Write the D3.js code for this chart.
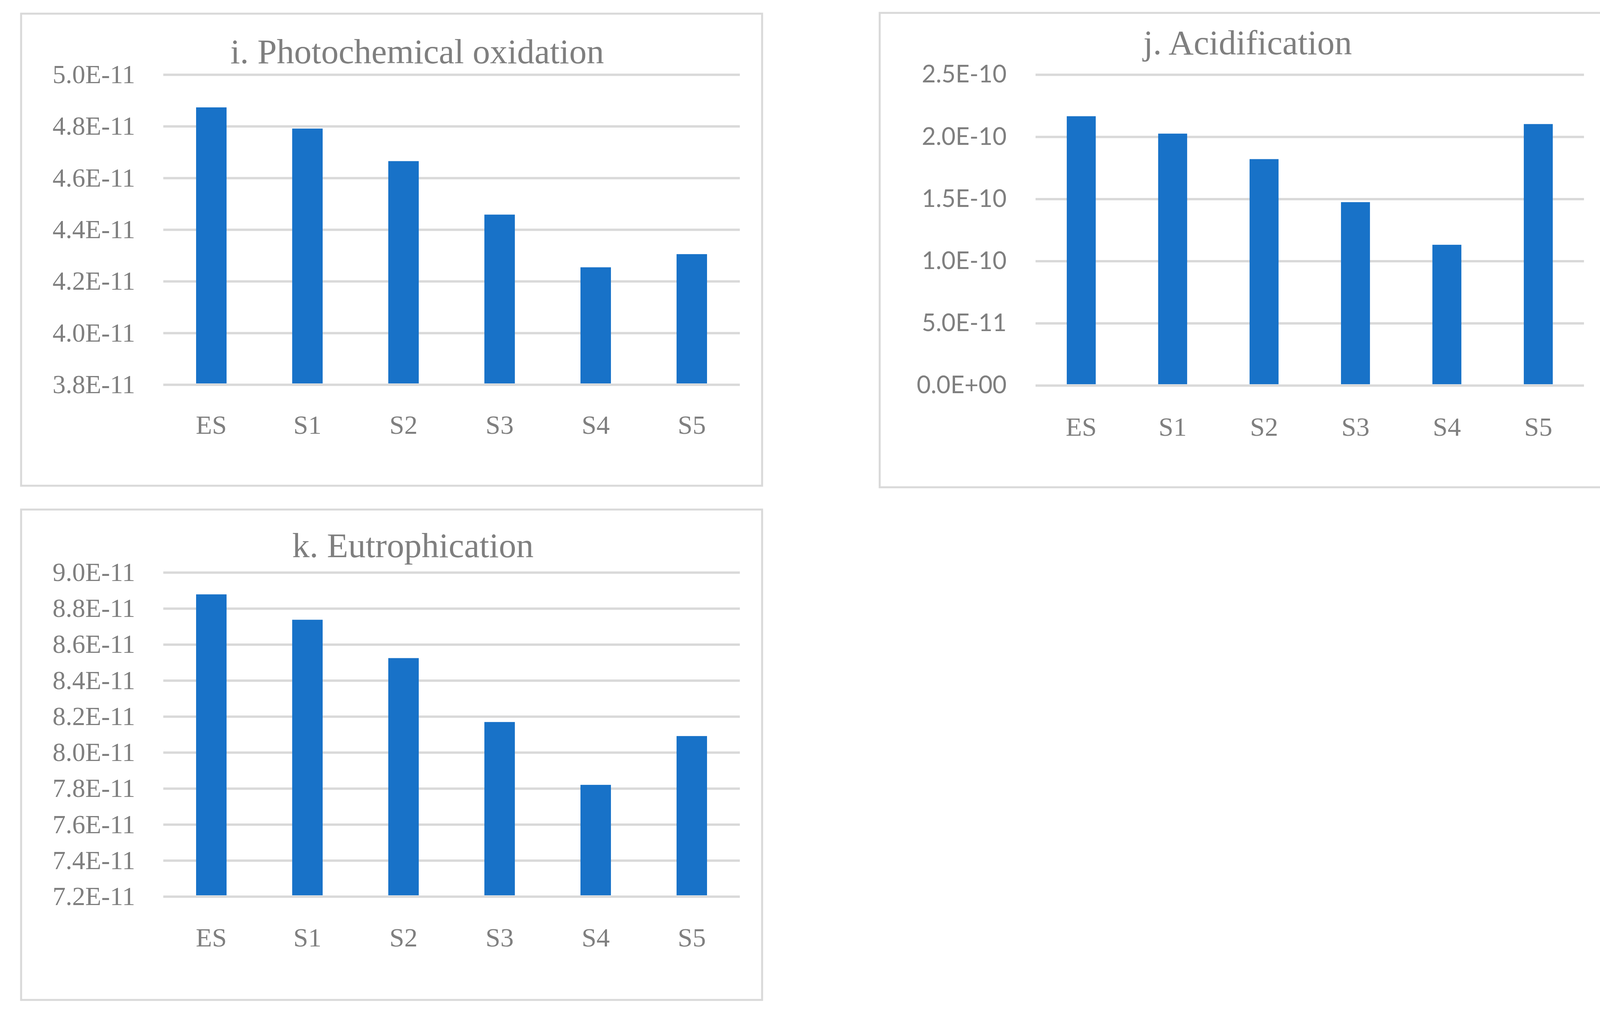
<!DOCTYPE html>
<html>
<head>
<meta charset="utf-8">
<script src="https://cdn.jsdelivr.net/npm/d3@7"></script>
<style>
  body { margin: 0; background: #ffffff; }
</style>
</head>
<body>
<div id="chart"></div>
<script>
// Define svg dimensions
var svgWidth = 4155;
var svgHeight = 2597;

// Chart data
var categories = ["ES", "S1", "S2", "S3", "S4", "S5"];

var photoValues = [4.873e-11, 4.791e-11, 4.665e-11, 4.458e-11, 4.254e-11, 4.305e-11];
var photoTicks = [3.8e-11, 4.0e-11, 4.2e-11, 4.4e-11, 4.6e-11, 4.8e-11, 5.0e-11];

var acidValues = [2.165e-10, 2.025e-10, 1.82e-10, 1.474e-10, 1.131e-10, 2.102e-10];
var acidTicks = [0, 5.0e-11, 1.0e-10, 1.5e-10, 2.0e-10, 2.5e-10];

var eutroValues = [8.878e-11, 8.737e-11, 8.524e-11, 8.169e-11, 7.82e-11, 8.091e-11];
var eutroTicks = [7.2e-11, 7.4e-11, 7.6e-11, 7.8e-11, 8.0e-11, 8.2e-11, 8.4e-11, 8.6e-11, 8.8e-11, 9.0e-11];

var barColor = "#1872c8";
var gridColor = "#d9d9d9";
var textColor = "#7f7f7f";
var serifFont = "'Liberation Serif', 'DejaVu Serif', serif";
var sansFont = "Lato, 'Liberation Sans', sans-serif";

// Excel style scientific labels, e.g. 5.0E-11, 0.0E+00
function sciFormat(v) {
  var parts = v.toExponential(1).split("e");
  var exp = +parts[1];
  var sign = exp < 0 ? "-" : "+";
  var digits = String(Math.abs(exp)).padStart(2, "0");
  return parts[0] + "E" + sign + digits;
}

var svg = d3.select("#chart")
  .append("svg")
  .attr("width", svgWidth)
  .attr("height", svgHeight);

svg.append("rect")
  .attr("width", svgWidth)
  .attr("height", svgHeight)
  .attr("fill", "#ffffff");

// Draw one bar chart panel
function drawChart(opts) {
  var g = svg.append("g").classed("panel", true);

  // Outer frame
  g.append("rect")
    .attr("x", opts.box[0])
    .attr("y", opts.box[1])
    .attr("width", opts.box[2] - opts.box[0])
    .attr("height", opts.box[3] - opts.box[1])
    .attr("fill", "none")
    .attr("stroke", gridColor)
    .attr("stroke-width", 5);

  var xBand = d3.scaleBand()
    .domain(categories)
    .range([opts.left, opts.right])
    .paddingInner(0.683)
    .paddingOuter(0.683 / 2);

  var yLinear = d3.scaleLinear()
    .domain(d3.extent(opts.ticks))
    .range([opts.bottom, opts.top]);

  // Gridlines and y labels
  var leftAxis = d3.axisLeft(yLinear)
    .tickValues(opts.ticks)
    .tickFormat(sciFormat)
    .tickSize(-(opts.right - opts.left))
    .tickPadding(opts.yPad);

  var yAxis = g.append("g")
    .attr("transform", `translate(${opts.left}, 0)`)
    .call(leftAxis);
  yAxis.select(".domain").remove();
  yAxis.selectAll("line")
    .attr("stroke", gridColor)
    .attr("stroke-width", 6);
  yAxis.selectAll("text")
    .attr("fill", textColor)
    .attr("font-family", opts.yFont)
    .attr("font-size", opts.yFontSize);

  // Bars
  g.append("g")
    .selectAll("rect")
    .data(opts.values)
    .enter()
    .append("rect")
    .attr("x", (d, i) => xBand(categories[i]))
    .attr("y", d => yLinear(d))
    .attr("width", xBand.bandwidth())
    .attr("height", d => yLinear.range()[0] - yLinear(d) - 3)
    .attr("fill", barColor);

  // Category labels
  var bottomAxis = d3.axisBottom(xBand)
    .tickSize(0)
    .tickPadding(opts.xPad);
  var xAxis = g.append("g")
    .attr("transform", `translate(0, ${opts.bottom})`)
    .call(bottomAxis);
  xAxis.select(".domain").remove();
  xAxis.selectAll("text")
    .attr("fill", textColor)
    .attr("font-family", serifFont)
    .attr("font-size", 68);

  // Title
  g.append("text")
    .attr("x", opts.titleX)
    .attr("y", opts.titleY)
    .attr("text-anchor", "middle")
    .attr("fill", textColor)
    .attr("font-family", serifFont)
    .attr("font-size", 89)
    .text(opts.title);
}

drawChart({
  title: "i. Photochemical oxidation",
  values: photoValues,
  ticks: photoTicks,
  box: [54, 35, 1951, 1244],
  left: 418, right: 1894, top: 191, bottom: 985,
  yPad: 72, xPad: 78,
  yFont: serifFont, yFontSize: 67,
  titleX: 1068, titleY: 162
});

drawChart({
  title: "j. Acidification",
  values: acidValues,
  ticks: acidTicks,
  box: [2252, 33, 4111, 1248],
  left: 2651, right: 4055, top: 191, bottom: 987,
  yPad: 74, xPad: 81,
  yFont: sansFont, yFontSize: 62,
  titleX: 3194, titleY: 139
});

drawChart({
  title: "k. Eutrophication",
  values: eutroValues,
  ticks: eutroTicks,
  box: [54, 1305, 1951, 2561],
  left: 418, right: 1894, top: 1466, bottom: 2296,
  yPad: 72, xPad: 80,
  yFont: serifFont, yFontSize: 67,
  titleX: 1057, titleY: 1427
});
</script>
</body>
</html>
